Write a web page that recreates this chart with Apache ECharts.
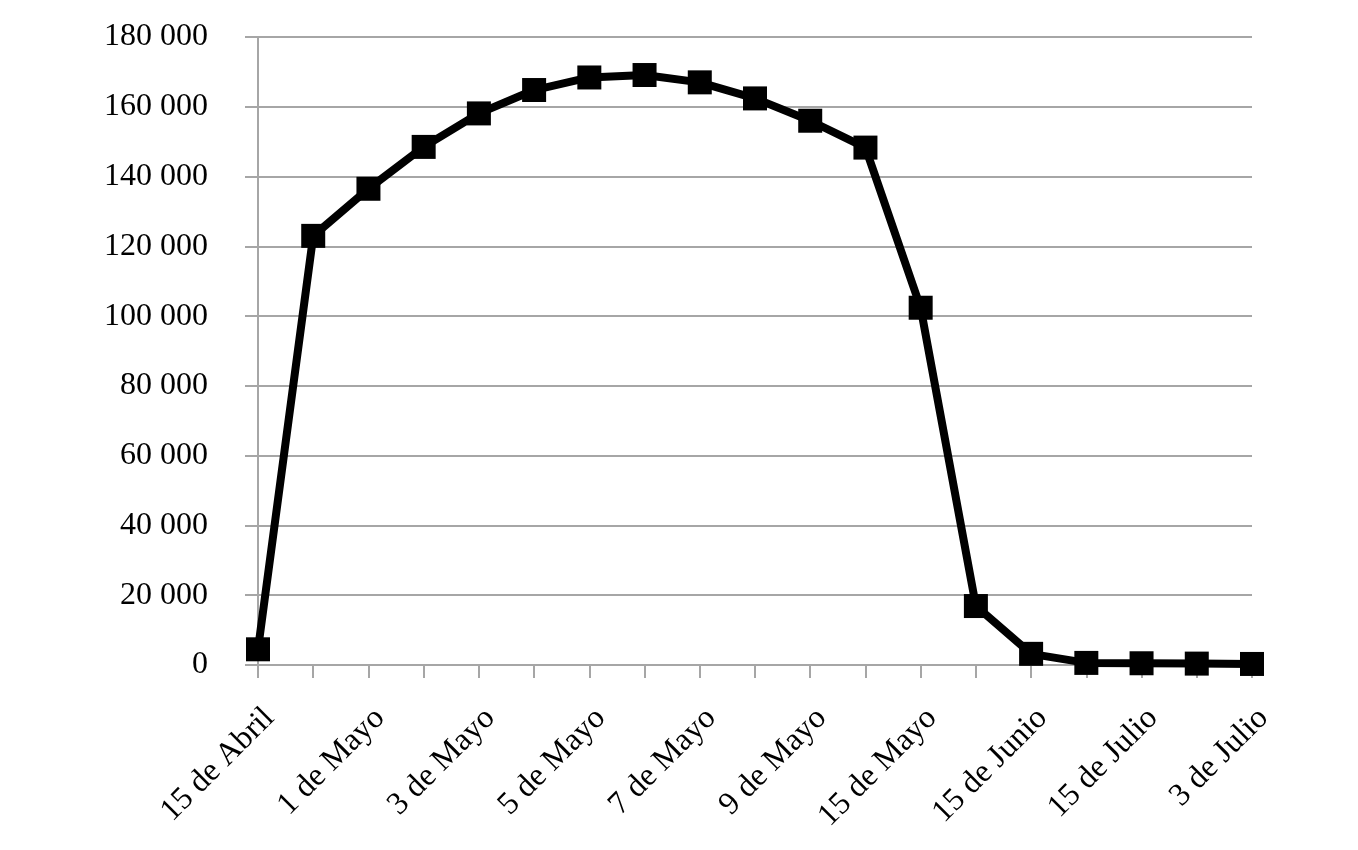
<!DOCTYPE html>
<html>
<head>
    <meta charset="utf-8">
    <title>Evolución</title>
    <script src="https://cdn.jsdelivr.net/npm/echarts@6.0.0/dist/echarts.min.js"></script>
    <style>
        html, body { margin: 0; padding: 0; background: #fff; }
    </style>
</head>
<body>
    <div id="main" style="width: 1358px;height:850px;"></div>
    <script type="text/javascript">
        // categorías (las impares no llevan etiqueta visible)
        var categorias = [
          '15 de Abril', '30 de Abril', '1 de Mayo', '2 de Mayo', '3 de Mayo',
          '4 de Mayo', '5 de Mayo', '6 de Mayo', '7 de Mayo', '8 de Mayo',
          '9 de Mayo', '10 de Mayo', '15 de Mayo', '1 de Junio', '15 de Junio',
          '1 de Julio', '15 de Julio', '1 de Agosto', '3 de Julio'
        ];
        // valores
        var valores = [
          4500, 123000, 136500, 148500, 158100,
          164800, 168400, 169100, 167000, 162400,
          156000, 148300, 102400, 16900, 3200,
          600, 500, 400, 300
        ];
        // eje y
        var yMin = 0, yMax = 180000, yPaso = 20000;

        var fuente = 'Liberation Serif, Times New Roman, serif';
        var gris = '#a6a6a6';

        var myChart = echarts.init(document.getElementById('main'));
        var option = {
          animation: false,
          grid: { left: 258, right: 106, top: 37, bottom: 185 },
          xAxis: {
            type: 'category',
            data: categorias,
            boundaryGap: false,
            axisLine: { lineStyle: { color: gris, width: 2 } },
            axisTick: { show: true, interval: 0, length: 13, lineStyle: { color: gris, width: 2 } },
            axisLabel: {
              interval: 1,
              rotate: 45,
              margin: 37,
              verticalAlign: 'top',
              color: '#000',
              fontFamily: fuente,
              fontSize: 32
            },
            splitLine: { show: false }
          },
          yAxis: {
            type: 'value',
            min: yMin,
            max: yMax,
            interval: yPaso,
            axisLine: { show: true, lineStyle: { color: gris, width: 2 } },
            axisTick: { show: true, length: 13, lineStyle: { color: gris, width: 2 } },
            axisLabel: {
              margin: 50,
              padding: [6, 0, 0, 0],
              color: '#000',
              fontFamily: fuente,
              fontSize: 32,
              formatter: function (v) {
                return String(v).replace(/\B(?=(\d{3})+(?!\d))/g, ' ');
              }
            },
            splitLine: { lineStyle: { color: gris, width: 2 } }
          },
          series: [{
            type: 'line',
            data: valores,
            symbol: 'rect',
            symbolSize: 24,
            showAllSymbol: true,
            lineStyle: { color: '#000', width: 8 },
            itemStyle: { color: '#000' }
          }]
        };
        myChart.setOption(option);
    </script>
</body>
</html>
